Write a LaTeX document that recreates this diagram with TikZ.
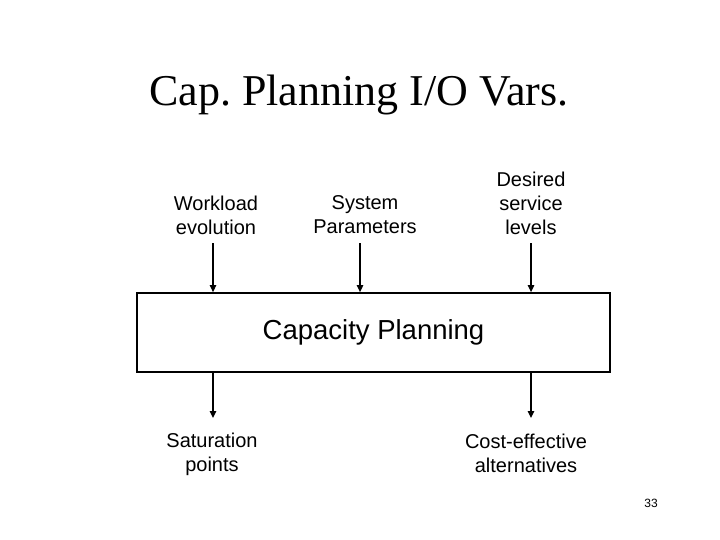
\documentclass[tikz,border=0pt]{standalone}
\usepackage{fontspec}
\setmainfont{Liberation Serif}
\newfontfamily\arialf{Liberation Sans}
\usetikzlibrary{arrows.meta}
\frenchspacing
\begin{document}
\begin{tikzpicture}[x=1pt,y=-1pt,
  lbl/.style={font=\arialf\fontsize{20}{24}\selectfont, align=center, inner sep=0pt},
  arr/.style={line width=1.3pt, -{Triangle[length=7pt,width=6.5pt]}},
  boxst/.style={draw, line width=1.8pt, minimum width=473pt, minimum height=79pt, inner sep=0pt,
    font=\arialf\fontsize{27.5}{32}\selectfont}]
\useasboundingbox (0,0) rectangle (720,540);
\node[font=\fontsize{44}{50}\selectfont, inner sep=0pt] (title) at (359,95) {Cap. Planning I/O Vars.};
\node[lbl] (wl) at (216,215) {Workload\\evolution};
\node[lbl] (sp) at (365,215) {System\\Parameters};
\node[lbl] (ds) at (531,203) {Desired\\service\\levels};
\node[boxst] (cp) at (373.5,332.5) {Capacity Planning};
\node[lbl] (sat) at (212,454) {Saturation\\points};
\node[lbl] (ce) at (526,453) {Cost-effective\\alternatives};
\node[font=\arialf\fontsize{12}{14}\selectfont, inner sep=0pt] (pg) at (651,503) {33};
\coordinate (t1) at (213,243);
\coordinate (t2) at (360,243);
\coordinate (t3) at (531,243);
\coordinate (b1) at (213,418);
\coordinate (b2) at (531,418);
\draw[arr] (t1) -- (t1 |- cp.north);
\draw[arr] (t2) -- (t2 |- cp.north);
\draw[arr] (t3) -- (t3 |- cp.north);
\draw[arr] (b1 |- cp.south) -- (b1);
\draw[arr] (b2 |- cp.south) -- (b2);
\end{tikzpicture}
\end{document}
